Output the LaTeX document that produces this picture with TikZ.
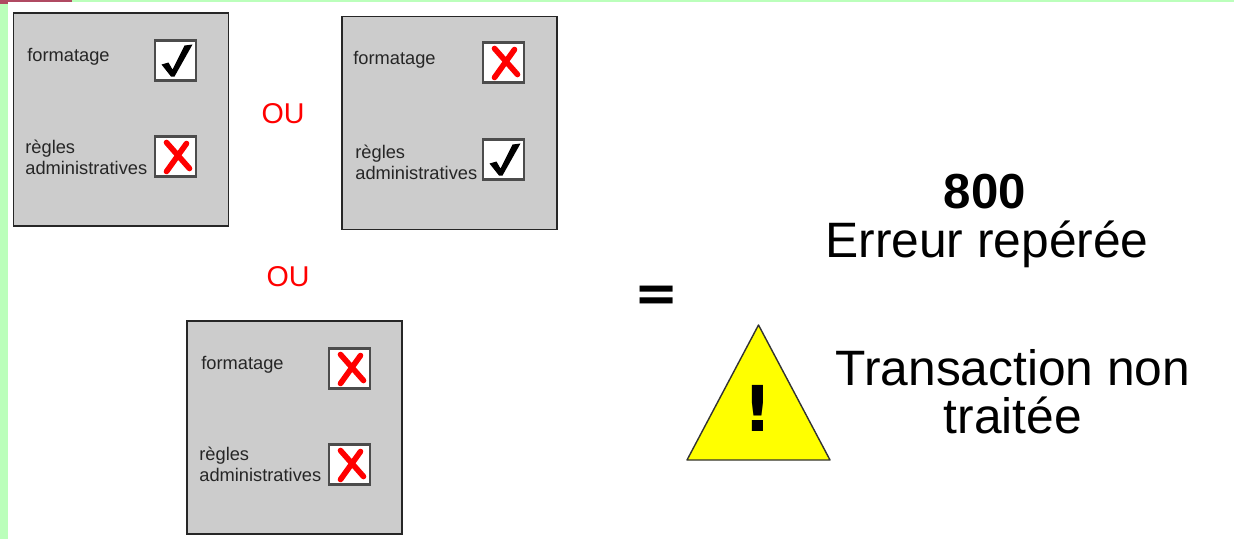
\documentclass[tikz,border=0pt]{standalone}
\usepackage{fontspec}
\setmainfont{Liberation Sans}
\newfontfamily\signfont{DejaVu Sans}
\definecolor{panelgray}{HTML}{CCCCCC}
\definecolor{stripgreen}{HTML}{BBFFBB}
\definecolor{stripred}{HTML}{B04A62}
\definecolor{markred}{HTML}{FF0000}
\definecolor{signyellow}{HTML}{FFFF00}
\definecolor{labelblack}{HTML}{262626}
\tikzset{
    panel/.style = {draw = black!85, fill = panelgray, line width = 1pt, minimum width = 215*0.02cm, minimum height = 213*0.02cm, inner sep = 0pt},
    tickbox/.style = {draw = black!70, fill = white, line width = 1.2pt, minimum width = 41*0.02cm, minimum height = 40*0.02cm, inner sep = 0pt},
    rulelabel/.style = {anchor = west, align = left, inner sep = 0pt, text = labelblack, font = \fontsize{10.4}{12}\selectfont},
    oulabel/.style = {text = markred, inner sep = 0pt, font = \fontsize{16.3}{19}\selectfont},
    biglabel/.style = {inner sep = 0pt, font = \fontsize{28.3}{33}\selectfont},
    checkmark/.pic = {
        \fill[black] (-14,4) -- (-7,2) -- (-3,9) -- (9,-15) -- (17,-16) -- (-1,16) -- (-4.5,16) -- cycle;
    },
    crossmark/.pic = {
        \draw[markred, line width = 3.2pt, line cap = round] (-9,-14) -- (14,12);
        \draw[markred, line width = 3.2pt, line cap = round] (11,-13) -- (-9,15);
    }
}
\begin{document}
\begin{tikzpicture}[x = 0.02cm, y = -0.02cm]
        \useasboundingbox (0,0) rectangle (1234,539);
        % page edge
        \fill[stripgreen] (0,0) rectangle (8,539);
        \fill[stripgreen] (0,0) rectangle (1234,2);
        \fill[stripred] (0,0) rectangle (72,2);
        \fill[stripred] (0,0) rectangle (8,4);
        % panels
        \node[panel] (panelA) at (121,119.5) {};
        \node[panel] (panelB) at (449.5,123) {};
        \node[panel] (panelC) at (294.5,427.5) {};
        % top left
        \node[rulelabel] (formatA) at (27,57) {formatage};
        \node[rulelabel] (reglesA) at (25,157) {règles\\administratives};
        \node[tickbox] (boxAa) at (175.5,60.5) {};
        \node[tickbox] (boxAb) at (175.5,156.5) {};
        \pic at (boxAa) {checkmark};
        \pic at (boxAb) {crossmark};
        % top right
        \node[rulelabel] (formatB) at (353,60) {formatage};
        \node[rulelabel] (reglesB) at (355,162) {règles\\administratives};
        \node[tickbox] (boxBa) at (503.5,62.5) {};
        \node[tickbox] (boxBb) at (503.5,159.5) {};
        \pic at (boxBa) {crossmark};
        \pic at (boxBb) {checkmark};
        % bottom
        \node[rulelabel] (formatC) at (201,365) {formatage};
        \node[rulelabel] (reglesC) at (199,464) {règles\\administratives};
        \node[tickbox] (boxCa) at (349.5,368.5) {};
        \node[tickbox] (boxCb) at (349.5,464.5) {};
        \pic at (boxCa) {crossmark};
        \pic at (boxCb) {crossmark};
        \node[oulabel] (ouA) at (283,114) {OU};
        \node[oulabel] (ouB) at (288,277) {OU};
        % result
        \node[inner sep = 0pt, font = \signfont\fontsize{30}{33}\bfseries\selectfont] (equal) at (656.5,299) {=};
        \node[biglabel, font = \fontsize{28}{33}\bfseries\selectfont] (code) at (985,192) {800};
        \node[biglabel] (erreur) at (987,244) {Erreur repérée};
        \node[biglabel, align = center, font = \fontsize{28.3}{27.3}\selectfont] (transaction) at (1013,392) {Transaction non\\traitée};
        \draw[fill = signyellow, draw = black!80, line width = 0.8pt, line join = round] (758.5,325) -- (830,460) -- (687,460) -- cycle;
        \node[inner sep = 0pt, font = \signfont\fontsize{36}{38}\bfseries\selectfont] (warning) at (758,408) {!};
\end{tikzpicture}
\end{document}
